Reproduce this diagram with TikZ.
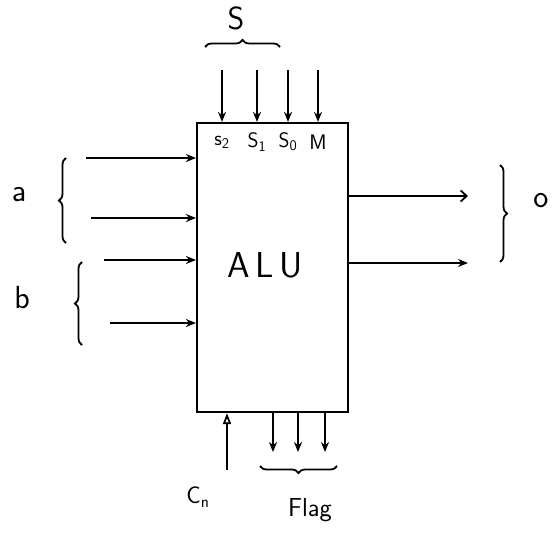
\documentclass[tikz,border=0pt]{standalone}
\usetikzlibrary{arrows.meta, positioning, calc, decorations.pathreplacing}

\begin{document}
\begin{tikzpicture}[
    x=1pt, y=-1pt,
    unit/.style={draw, line width=2.2pt, minimum width=151pt, minimum height=289pt, inner sep=0pt},
    sig/.style={-{Stealth[length=10pt, width=8pt]}, line width=1.8pt},
    sigopen/.style={-{Straight Barb[length=6pt, width=11pt]}, line width=1.8pt},
    carry/.style={-{Triangle[open, length=11pt, width=8pt]}, line width=1.8pt},
    grp/.style={decorate, decoration={brace, amplitude=7pt}, line width=1.8pt},
    lbl/.style={font=\sffamily\fontsize{32}{34}\selectfont, inner sep=0pt},
    pin/.style={font=\sffamily\fontsize{21}{22}\selectfont, inner sep=0pt},
  ]
  \useasboundingbox (0,0) rectangle (553,535);

  % the unit, 151 x 289 px
  \node[unit] (alu) at (272.5,267.5) {};
  \node[font=\sffamily\fontsize{36}{38}\selectfont] (name) at (265,265) {A\,L\,U};

  % select lines and mode from above
  \foreach \x/\n/\t in {222/s2/s\textsubscript{2}, 257/s1/S\textsubscript{1}, 288/s0/S\textsubscript{0}, 318/m/M} {
    \coordinate (\n) at (\x,70);
    \draw[sig] (\n) -- (\n |- alu.north);
    \node[pin] (\n-pin) at (\x,142) {\t};
  }
  \draw[grp] (205,47) -- (280,47);
  \node[lbl] (sel) at (236,18) {S};

  % operands a, b
  \foreach \y/\x/\n in {158/86/a1, 218/91/a0, 260/104/b1, 323/110/b0} {
    \coordinate (\n) at (\x,\y);
    \draw[sig] (\n) -- (\n -| alu.west);
  }
  \draw[grp] (66,243) -- (66,158);
  \draw[grp] (82,345) -- (82,262);
  \node[lbl] (opa) at (19,195) {a};
  \node[lbl] (opb) at (22,298) {b};

  % result
  \foreach \y/\n/\s in {196/o1/sigopen, 263/o0/sig} {
    \coordinate (\n) at (468,\y);
    \draw[\s] (\n -| alu.east) -- (\n);
  }
  \draw[grp] (500,165) -- (500,262);
  \node[lbl] (res) at (541,201) {o};

  % carry in and flags
  \coordinate (cn) at (227,470);
  \draw[carry] (cn) -- (cn |- alu.south);
  \node[font=\sffamily\fontsize{24}{26}\selectfont, inner sep=0pt] (cin) at (198,497) {C\textsubscript{n}};
  \foreach \x/\n in {273/f2, 298/f1, 325/f0} {
    \coordinate (\n) at (\x,452);
    \draw[sig] (\n |- alu.south) -- (\n);
  }
  \draw[grp] (337,466) -- (260,466);
  \node[font=\sffamily\fontsize{26}{28}\selectfont, inner sep=0pt] (flag) at (310,510) {Flag};
\end{tikzpicture}
\end{document}
